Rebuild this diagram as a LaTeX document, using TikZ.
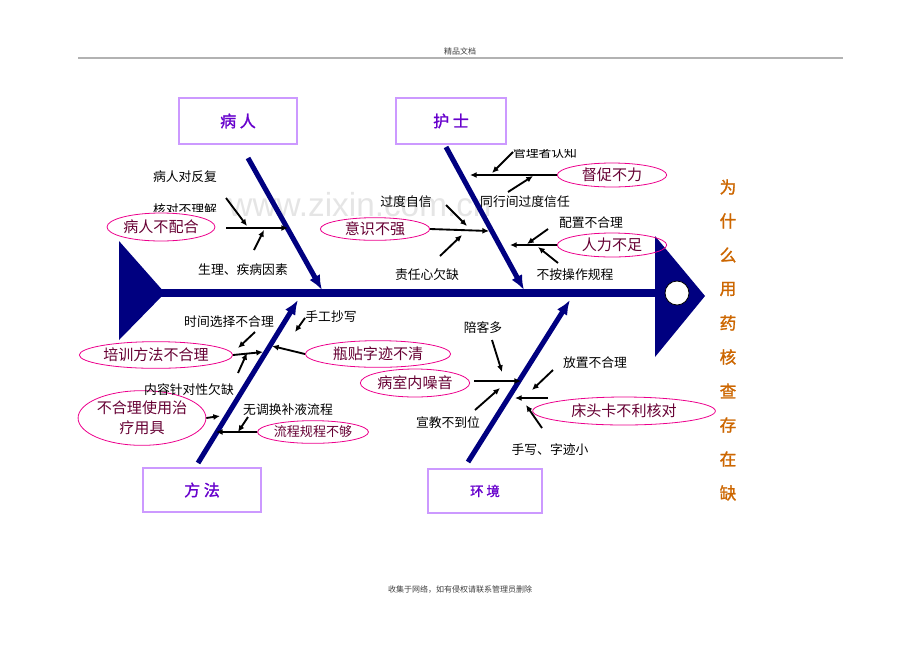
\documentclass[tikz,border=0pt]{standalone}
\usepackage{fontspec}
\setmainfont{Liberation Sans}
\newfontfamily\cjk{Noto Sans CJK SC}
\newfontfamily\cjkbold[FakeBold=1.5]{Noto Sans CJK SC}
\usetikzlibrary{arrows.meta,shapes.geometric}
\definecolor{spine}{RGB}{0,0,128}
\definecolor{boxline}{RGB}{204,153,255}
\definecolor{boxtext}{RGB}{102,0,204}
\definecolor{ovaltext}{RGB}{102,0,51}
\definecolor{titletext}{RGB}{204,102,0}
\tikzset{
  catbox/.style={draw=boxline, line width=1.5pt, text=boxtext,
    font=\cjkbold\fontsize{12}{12}\selectfont},
  cause/.style={ellipse, draw=magenta, line width=0.6pt, inner sep=0pt,
    text=ovaltext, font=\cjk\fontsize{11.3}{15}\selectfont, align=center},
  note/.style={font=\cjk\fontsize{9.6}{11}\selectfont},
  bone/.style={spine, line width=3.8pt, -{Latex[length=11pt,width=9pt]}},
  sub/.style={line width=1.4pt, -{Latex[length=5pt,width=4.5pt]}},
  titlechar/.style={text=titletext, font=\cjkbold\fontsize{12.5}{12.5}\selectfont},
}
\begin{document}
\begin{tikzpicture}[x=0.75pt,y=-0.75pt]
  \useasboundingbox (0,0) rectangle (920,651);
  % watermark, header and footer
  \node (wm) at (360,205) [text=black!10, font=\fontsize{25}{25}\selectfont] {www.zixin.com.cn};
  \node (hdr) at (460,51) [font=\cjk\fontsize{6}{6}\selectfont, text=black!75] {精品文档};
  \coordinate (rl) at (78,58); \coordinate (rr) at (843,58);
  \draw[black!30, line width=1pt] (rl) -- (rr);
  \node (ftr) at (460,590) [font=\cjk\fontsize{6}{6}\selectfont, text=black!75] {收集于网络，如有侵权请联系管理员删除};

  % fish body
  \coordinate (tail) at (160,293); \coordinate (head) at (660,293);
  \fill[spine] (119,241) -- (165,293) -- (119,340) -- cycle;
  \fill[spine] (655,236) -- (705,296) -- (655,357) -- cycle;
  \draw[spine, line width=6pt] (tail) -- (head);
  \node (eye) at (677,293) [circle, draw, fill=white, line width=0.6pt, minimum size=18pt, inner sep=0pt] {};

  % categories
  \node (pt) at (238,121) [catbox, minimum width=89pt, minimum height=34pt] {病 人};
  \node (ns) at (451,121) [catbox, minimum width=82pt, minimum height=34pt] {护 士};
  \node (mt) at (202,490) [catbox, minimum width=88pt, minimum height=33pt] {方 法};
  \node (ev) at (485,491) [catbox, minimum width=85pt, minimum height=33pt,
    font=\cjkbold\fontsize{10}{10}\selectfont] {环 境};

  % main bones
  \coordinate (pt-top) at (248,158); \coordinate (pt-end) at (322,290);
  \coordinate (ns-top) at (446,147); \coordinate (ns-end) at (524,290);
  \coordinate (mt-low) at (198,463); \coordinate (mt-end) at (298,300);
  \coordinate (ev-low) at (468,462); \coordinate (ev-end) at (570,300);
  \draw[bone] (pt-top) -- (pt-end);
  \draw[bone] (ns-top) -- (ns-end);
  \draw[bone] (mt-low) -- (mt-end);
  \draw[bone] (ev-low) -- (ev-end);

  % causes
  \node (c-coop) at (161,227) [cause, minimum width=81pt, minimum height=21pt] {病人不配合};
  \node (c-mind) at (375,229) [cause, minimum width=82pt, minimum height=17pt] {意识不强};
  \node (c-push) at (612,175) [cause, minimum width=82pt, minimum height=18pt] {督促不力};
  \node (c-staff) at (612,245) [cause, minimum width=82pt, minimum height=18pt] {人力不足};
  \node (c-train) at (156,355) [cause, minimum width=115pt, minimum height=20pt] {培训方法不合理};
  \node (c-label) at (378,354) [cause, minimum width=109pt, minimum height=20pt] {瓶贴字迹不清};
  \node (c-noise) at (415,383) [cause, minimum width=82pt, minimum height=21pt] {病室内噪音};
  \node (c-tool) at (142,418) [cause, minimum width=81pt, minimum height=41pt] {不合理使用治\\疗用具};
  \node (c-flow) at (313,432) [cause, minimum width=82pt, minimum height=17pt,
    font=\cjk\fontsize{9.8}{11}\selectfont] {流程规程不够};
  \node (c-card) at (624,411) [cause, minimum width=137pt, minimum height=21pt] {床头卡不利核对};

  % notes
  \node (n1) at (185,177) [note] {病人对反复};
  \begin{scope}
    \clip (130,195) rectangle (240,211.5);
    \node (n2) at (185,210) [note] {核对不理解};
  \end{scope}
  \node (n3) at (243,270) [note] {生理、疾病因素};
  \node (n4) at (406,202) [note] {过度自信};
  \node (n5) at (427,275) [note] {责任心欠缺};
  \begin{scope}
    \clip (490,149) rectangle (600,170);
    \node (n6) at (545,153) [note] {管理者认知};
  \end{scope}
  \node (n7) at (525,202) [note] {同行间过度信任};
  \node (n8) at (591,223) [note] {配置不合理};
  \node (n9) at (575,275) [note] {不按操作规程};
  \node (n10) at (229,322) [note] {时间选择不合理};
  \node (n11) at (331,317) [note] {手工抄写};
  \node (n12) at (189,390) [note] {内容针对性欠缺};
  \node (n13) at (288,410) [note] {无调换补液流程};
  \node (n14) at (483,328) [note] {陪客多};
  \node (n15) at (595,363) [note] {放置不合理};
  \node (n16) at (448,423) [note] {宣教不到位};
  \node (n17) at (550,450) [note] {手写、字迹小};

  % sub-bones, patient
  \coordinate (a0) at (226,228); \coordinate (a1) at (288,228);
  \coordinate (a2) at (226,198); \coordinate (a3) at (247,226);
  \coordinate (a4) at (254,250); \coordinate (a5) at (264,230);
  \draw[sub] (a0) -- (a1); \draw[sub] (a2) -- (a3); \draw[sub] (a4) -- (a5);
  % sub-bones, nurse
  \coordinate (b1) at (489,231);
  \coordinate (b2) at (446,205); \coordinate (b3) at (467,226);
  \coordinate (b4) at (440,256); \coordinate (b5) at (462,235);
  \coordinate (b6) at (470,175);
  \coordinate (b7) at (513,152); \coordinate (b8) at (492,173);
  \coordinate (b9) at (508,192); \coordinate (b10) at (533,176);
  \coordinate (b11) at (510,245);
  \coordinate (b12) at (548,229); \coordinate (b13) at (527,244);
  \coordinate (b14) at (558,263); \coordinate (b15) at (538,247);
  \draw[sub] (c-mind.east) -- (b1); \draw[sub] (b2) -- (b3); \draw[sub] (b4) -- (b5);
  \draw[sub] (c-push.west) -- (b6); \draw[sub] (b7) -- (b8); \draw[sub] (b9) -- (b10);
  \draw[sub] (c-staff.west) -- (b11); \draw[sub] (b12) -- (b13); \draw[sub] (b14) -- (b15);
  % sub-bones, method
  \coordinate (m1) at (263,352);
  \coordinate (m2) at (255,332); \coordinate (m3) at (238,348);
  \coordinate (m4) at (238,373); \coordinate (m5) at (247,353);
  \coordinate (m6) at (272,346);
  \coordinate (m7) at (305,318); \coordinate (m8) at (295,332);
  \coordinate (m9) at (220,416);
  \coordinate (m10) at (216,432);
  \coordinate (m11) at (248,417); \coordinate (m12) at (238,432);
  \draw[sub] (c-train.east) -- (m1); \draw[sub] (m2) -- (m3); \draw[sub] (m4) -- (m5);
  \draw[sub] (c-label.west) -- (m6); \draw[sub] (m7) -- (m8);
  \draw[sub] (c-tool.east) -- (m9);
  \draw[sub] (c-flow.west) -- (m10); \draw[sub] (m11) -- (m12);
  % sub-bones, environment
  \coordinate (e0) at (474,381); \coordinate (e1) at (521,381);
  \coordinate (e2) at (492,340); \coordinate (e3) at (502,372);
  \coordinate (e4) at (475,410); \coordinate (e5) at (500,388);
  \coordinate (e6) at (548,398); \coordinate (e7) at (515,398);
  \coordinate (e8) at (553,370); \coordinate (e9) at (532,390);
  \coordinate (e10) at (542,428); \coordinate (e11) at (526,405);
  \draw[sub] (e0) -- (e1); \draw[sub] (e2) -- (e3); \draw[sub] (e4) -- (e5);
  \draw[sub] (e6) -- (e7); \draw[sub] (e8) -- (e9); \draw[sub] (e10) -- (e11);

  % title
  \foreach \c [count=\i] in {为,什,么,用,药,核,查,存,在,缺}
    \node (t\i) at (728,153+34*\i) [titlechar] {\c};
\end{tikzpicture}
\end{document}
